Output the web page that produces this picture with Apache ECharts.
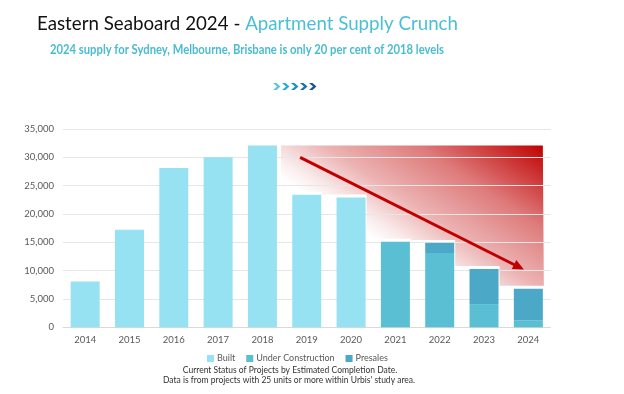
<!DOCTYPE html>
<html><head><meta charset="utf-8">
<script src="https://cdn.jsdelivr.net/npm/echarts@6/dist/echarts.min.js"></script>
<style>html,body{margin:0;padding:0;background:#fff}#c{width:624px;height:394px}</style>
</head><body><div id="c"></div>
<script>
const years = ['2014','2015','2016','2017','2018','2019','2020','2021','2022','2023','2024'];
const built = [8100,17200,28100,30000,32100,23400,22900,null,null,null,null];
const underConstruction = [null,null,null,null,null,null,null,15100,13100,4100,1200];
const presales = [null,null,null,null,null,null,null,null,1800,6200,5600];
const yTicks = [0,5000,10000,15000,20000,25000,30000,35000];
const trendStart = [4.85, 30000];
const trendEnd = [9.9, 10200];
const crunchFrom = 5; // index of 2019
const peakIndex = 4;  // 2018

const totals = years.map((y,i)=>(built[i]||0)+(underConstruction[i]||0)+(presales[i]||0));
const areaData = years.slice(crunchFrom).map((y,i)=>[crunchFrom+i, totals[crunchFrom+i]]);

const FONT = 'Lato, "Open Sans", sans-serif';
const mctx = document.createElement('canvas').getContext('2d');
function textW(str, font){ mctx.font = font; return mctx.measureText(str).width; }

const titleA = 'Eastern Seaboard 2024 - ';
const titleB = 'Apartment Supply Crunch';
const subTitle = '2024 supply for Sydney, Melbourne, Brisbane is only 20 per cent of 2018 levels';
const titleScale = 421 / textW(titleA + titleB, '20px Lato');
const subScale = 394 / textW(subTitle, 'bold 13px Lato');

const chart = echarts.init(document.getElementById('c'), null, {renderer:'canvas'});

function chevron(x, color){
  return {type:'polygon', shape:{points:[[x,83],[x+3.5,83],[x+7.5,86.5],[x+3.5,90],[x,90],[x+4,86.5]]}, style:{fill:color}, silent:true};
}

chart.setOption({
  animation:false,
  grid:{left:63, right:73.5, top:129, bottom:66.7},
  legend:{left:202, top:349, itemWidth:7, itemHeight:7, itemGap:11, icon:'rect',
    textStyle:{fontFamily:FONT, fontSize:9, color:'#595959', padding:[0,0,0,-2]},
    data:['Built','Under Construction','Presales']},
  xAxis:{type:'category', data:years,
    axisLine:{lineStyle:{color:'#D9D9D9'}}, axisTick:{show:false},
    axisLabel:{fontFamily:FONT, fontSize:9.5, color:'#595959', margin:8}},
  yAxis:{type:'value', min:0, max:35000, interval:5000,
    axisLine:{show:false}, axisTick:{show:false},
    splitLine:{lineStyle:{color:'#E6E6E6'}},
    axisLabel:{fontFamily:FONT, fontSize:9.5, color:'#595959', margin:9,
      formatter:v=>yTicks.includes(v)? v.toLocaleString('en-US'):''}},
  series:[
    {type:'custom', name:'crunch', z:-1, silent:true, data:areaData,
     renderItem:function(params, api){
       if(params.dataIndex!==0) return;
       const half = 14.5;
       const topY = api.coord([peakIndex, totals[peakIndex]])[1];
       const pts = [];
       const n = areaData.length;
       const firstLeft = api.coord([crunchFrom-1, 0])[0] + half + 4;
       const lastRight = api.coord([crunchFrom+n-1, 0])[0] + half;
       pts.push([firstLeft, topY]);
       pts.push([lastRight, topY]);
       for(let k=n-1;k>=0;k--){
         const idx = crunchFrom+k;
         const c = api.coord([idx, totals[idx]]);
         const right = c[0]+half+1;
         const left = k===0 ? firstLeft : api.coord([idx-1,0])[0]+half+1;
         pts.push([right, c[1]-3]);
         pts.push([left, c[1]-3]);
       }
       const ox = firstLeft, oy = topY + 33;
       const grad = new echarts.graphic.LinearGradient(ox, oy, ox + 94.6, oy - 143.6, [
           {offset:0, color:'rgba(192,0,0,0)'},
           {offset:0.1, color:'rgba(192,0,0,0.08)'},
           {offset:0.3, color:'rgba(192,0,0,0.3)'},
           {offset:0.6, color:'rgba(192,0,0,0.52)'},
           {offset:1, color:'rgba(192,0,0,1)'}], true);
       return {type:'polygon', shape:{points:pts}, style:{fill:grad}};
     }},
    {type:'bar', name:'Built', stack:'t', data:built, barWidth:29,
     itemStyle:{color:'#96E2F2'}},
    {type:'bar', name:'Under Construction', stack:'t', data:underConstruction, barWidth:29,
     itemStyle:{color:'#5BBFD4'}},
    {type:'bar', name:'Presales', stack:'t', data:presales, barWidth:29,
     itemStyle:{color:'#4BA8C6'}},
    {type:'custom', name:'trend', z:5, silent:true, data:[trendStart, trendEnd],
     renderItem:function(params, api){
       if(params.dataIndex!==0) return;
       const band = api.size([1,0])[0];
       const at = (p)=>{ const i=Math.floor(p[0]); const c=api.coord([i,p[1]]); return [c[0]+(p[0]-i)*band, c[1]]; };
       const a = at(trendStart), b = at(trendEnd);
       const dx=b[0]-a[0], dy=b[1]-a[1], L=Math.hypot(dx,dy), ux=dx/L, uy=dy/L;
       const hl=11, hw=5;
       const base=[b[0]-ux*hl, b[1]-uy*hl];
       return {type:'group', children:[
         {type:'line', shape:{x1:a[0],y1:a[1],x2:base[0]+ux*2,y2:base[1]+uy*2}, style:{stroke:'#C00000', lineWidth:3}},
         {type:'polygon', shape:{points:[b,[base[0]-uy*hw, base[1]+ux*hw],[base[0]+uy*hw, base[1]-ux*hw]]}, style:{fill:'#C00000'}}
       ]};
     }}
  ],
  graphic:[
    {type:'text', x:37, y:23.5, scaleX:titleScale, originX:0, originY:0,
     style:{text:'{a|'+titleA+'}{b|'+titleB+'}', verticalAlign:'middle',
       rich:{a:{fontFamily:'Lato', fontSize:20, fill:'#111'}, b:{fontFamily:'Lato', fontSize:20, fill:'#4BC0D3'}}}},
    {type:'text', x:50, y:50, scaleX:subScale, originX:0, originY:0,
     style:{text:subTitle, verticalAlign:'middle', fontFamily:'Lato', fontWeight:'bold', fontSize:13, fill:'#4BBCD0'}},
    chevron(273,'#5CC8DD'), chevron(282,'#2EADD3'), chevron(291,'#1F90C2'), chevron(300,'#1D72AC'), chevron(309,'#20538C'),
    {type:'text', x:290, y:366, style:{text:'Current Status of Projects by Estimated Completion Date.', align:'center', fontFamily:FONT, fontSize:8.5, fill:'#333'}},
    {type:'text', x:289, y:376, style:{text:"Data is from projects with 25 units or more within Urbis' study area.", align:'center', fontFamily:FONT, fontSize:8.5, fill:'#333'}}
  ]
});
</script></body></html>
